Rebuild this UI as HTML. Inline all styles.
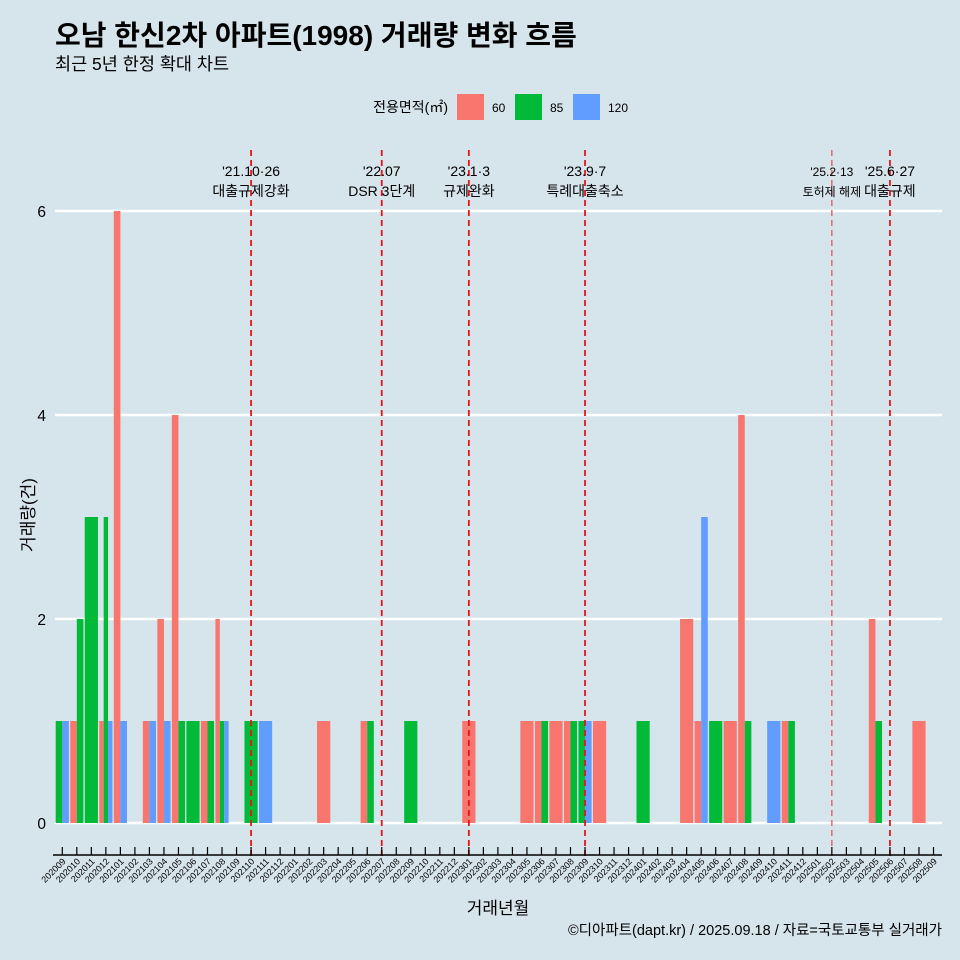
<!DOCTYPE html>
<html><head><meta charset="utf-8">
<style>
body{margin:0;background:#d6e4eb;}
svg{display:block;font-family:"Liberation Sans","Noto Sans CJK KR",sans-serif;}
</style></head>
<body>
<svg id="c" width="960" height="960" viewBox="0 0 960 960">
<rect width="960" height="960" fill="#d6e4eb"/>
<text x="55" y="45" font-size="28" font-weight="bold" fill="#000">오남 한신2차 아파트(1998) 거래량 변화 흐름</text>
<text x="55" y="70" font-size="17.5" fill="#000">최근 5년 한정 확대 차트</text>
<g>
<text x="448" y="112" font-size="14" text-anchor="end">전용면적(㎡)</text>
<rect x="457" y="94" width="27" height="26" fill="#f8766d"/>
<text x="492" y="112" font-size="12">60</text>
<rect x="515" y="94" width="27" height="26" fill="#00ba38"/>
<text x="550" y="112" font-size="12">85</text>
<rect x="573" y="94" width="27" height="26" fill="#619cff"/>
<text x="608" y="112" font-size="12">120</text>
</g>
<g id="grid"></g><g id="bars"></g><g id="events"></g><g id="axes"></g>
<text x="498" y="914" font-size="17" text-anchor="middle">거래년월</text>
<text transform="translate(34,515) rotate(-90)" font-size="17" text-anchor="middle">거래량(건)</text>
<text x="942" y="935" font-size="14.5" text-anchor="end">©디아파트(dapt.kr) / 2025.09.18 / 자료=국토교통부 실거래가</text>
</svg>
<script>
const months = [];
for (let y = 2020, m = 9; y * 100 + m <= 202509; m++) { if (m > 12) { m = 1; y++; } months.push(String(y * 100 + m)); }
const s60 = {"202010":1,"202012":1,"202101":6,"202103":1,"202104":2,"202105":4,"202107":1,"202108":2,"202203":1,"202206":1,"202301":1,"202305":1,"202306":1,"202307":1,"202308":1,"202310":1,"202404":2,"202405":1,"202407":1,"202408":4,"202411":1,"202505":2,"202508":1};
const s85 = {"202009":1,"202010":2,"202011":3,"202012":3,"202105":1,"202106":1,"202107":1,"202108":1,"202110":1,"202206":1,"202209":1,"202306":1,"202308":1,"202309":1,"202401":1,"202406":1,"202408":1,"202411":1,"202505":1};
const s120 = {"202009":1,"202012":1,"202101":1,"202103":1,"202104":1,"202108":1,"202111":1,"202309":1,"202405":3,"202410":1};
const seriesNames = ["60","85","120"];
const seriesColors = ["#f8766d","#00ba38","#619cff"];
const yTicks = [0,2,4,6];
const eventMonths = ["202110","202207","202301","202309","202502","202506"];
const eventLine1 = ["'21.10·26","'22.07","'23.1·3","'23.9·7","'25.2·13","'25.6·27"];
const eventLine2 = ["대출규제강화","DSR 3단계","규제완화","특례대출축소","토허제 해제","대출규제"];

const NS = "http://www.w3.org/2000/svg";
const x0 = 62.3, step = 14.52, bw = 13.2;
const xS = i => x0 + i * step;
const yS = v => 823 - v * 102;
function mk(tag, attrs, parent) { const e = document.createElementNS(NS, tag); for (const k in attrs) e.setAttribute(k, attrs[k]); parent.appendChild(e); return e; }
const grid = document.getElementById('grid'), bars = document.getElementById('bars'), ev = document.getElementById('events'), ax = document.getElementById('axes');

yTicks.forEach(t => {
  const l = mk('line', {x1: 55, x2: 942, y1: yS(t), y2: yS(t), stroke: '#fff', 'stroke-width': 2.5}, grid);
  
  
  const tx = mk('text', {x: 46, y: yS(t) + 6, 'font-size': 15.5, 'text-anchor': 'end'}, ax);
  tx.textContent = t;
  
  
});

const series = [s60, s85, s120];
months.forEach((m, i) => {
  const present = [];
  series.forEach((s, k) => { if (s[m]) present.push(k); });
  const w = bw / (present.length || 1);
  present.forEach((k, j) => {
    const v = series[k][m];
    const r = mk('rect', {x: xS(i) - bw / 2 + j * w, y: yS(v), width: w, height: yS(0) - yS(v), fill: seriesColors[k]}, bars);
    
    
  });
  const tk = mk('line', {x1: xS(i), x2: xS(i), y1: 847, y2: 855, stroke: '#000', 'stroke-width': 1.2}, ax);
  
  
  const lb = mk('text', {transform: `translate(${xS(i) + 4},${862}) rotate(-45)`, 'font-size': 9, 'text-anchor': 'end'}, ax);
  lb.textContent = m;
  
  
});
const axl = mk('line', {x1: 53, x2: 942, y1: 855, y2: 855, stroke: '#000', 'stroke-width': 1.5}, ax);



eventMonths.forEach((m, k) => {
  const i = months.indexOf(m);
  const x = xS(i);
  const light = m === "202502";
  const l = mk('line', {x1: x, x2: x, y1: 150, y2: 858, stroke: light ? '#e8454a' : '#e8141c', 'stroke-width': light ? 1.2 : 1.8, 'stroke-dasharray': '6,4'}, ev);
  
  
  const fs = light ? 12 : 14;
  const t1 = mk('text', {x: x, y: 176, 'font-size': fs, 'text-anchor': 'middle'}, ev);
  t1.textContent = eventLine1[k];
  
  
  const t2 = mk('text', {x: x, y: 196, 'font-size': fs, 'text-anchor': 'middle'}, ev);
  t2.textContent = eventLine2[k];
  
  
});
</script>
</body></html>
